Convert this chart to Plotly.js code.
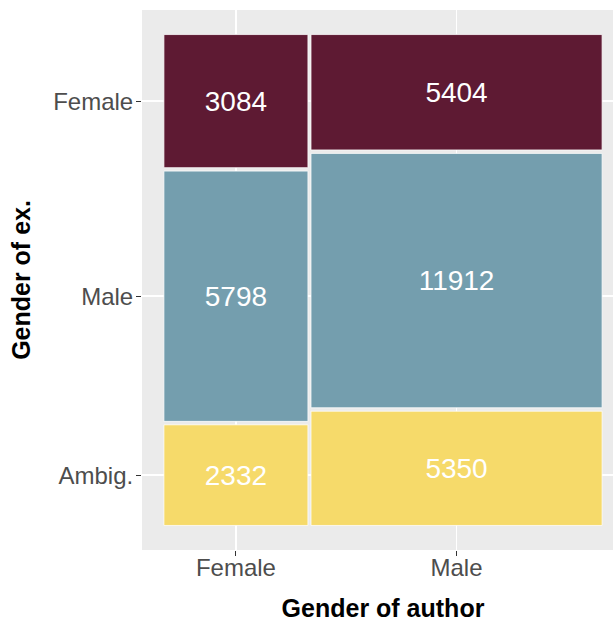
<!DOCTYPE html>
<html>
<head>
<meta charset="utf-8">
<script src="https://cdn.plot.ly/plotly-3.0.1.min.js"></script>
<style>
html, body { margin: 0; padding: 0; overflow: hidden; background: #ffffff; }
#chart { width: 625px; height: 627px; }
</style>
</head>
<body>
<div id="chart"></div>
<script>
// Data
var authorGenders = ["Female", "Male"];
var exGenders = ["Ambig.", "Male", "Female"]; // bottom to top
var countsAmbig = [2332, 5350];
var countsMale = [5798, 11912];
var countsFemale = [3084, 5404];
var fillColors = ["#F6DA6A", "#749EAE", "#5E1A33"];

var seriesCounts = [countsAmbig, countsMale, countsFemale];
var gap = 0.007;

// Mosaic geometry built from the counts
var colTotals = authorGenders.map(function (_, j) {
  return seriesCounts.reduce(function (s, arr) { return s + arr[j]; }, 0);
});
var grand = colTotals.reduce(function (a, b) { return a + b; }, 0);
var availW = 1 - gap * (authorGenders.length - 1);
var availH = 1 - gap * (exGenders.length - 1);
var colWidths = colTotals.map(function (t) { return availW * t / grand; });
var colStarts = [];
var acc = 0;
colWidths.forEach(function (w) { colStarts.push(acc); acc += w + gap; });
var colCenters = colStarts.map(function (s, j) { return s + colWidths[j] / 2; });

var traces = [];
var bases = authorGenders.map(function () { return 0; });
var yTickVals = [];
exGenders.forEach(function (g, i) {
  var heights = authorGenders.map(function (_, j) { return availH * seriesCounts[i][j] / colTotals[j]; });
  var thisBase = bases.slice();
  yTickVals.push(thisBase[0] + heights[0] / 2);
  traces.push({
    type: "bar",
    name: g,
    x: colCenters,
    y: heights,
    base: thisBase,
    width: colWidths,
    text: seriesCounts[i].map(String),
    textposition: "inside",
    insidetextanchor: "middle",
    textfont: { color: "#ffffff", size: 28, family: "Liberation Sans, Arial, sans-serif" },
    constraintext: "none",
    marker: { color: fillColors[i], line: { color: "rgba(255,255,255,0.75)", width: 1 } },
    hoverinfo: "skip",
    showlegend: false
  });
  bases = bases.map(function (b, j) { return b + heights[j] + gap; });
});

var layout = {
  width: 625,
  height: 627,
  margin: { l: 142, r: 1, t: 10, b: 77 },
  paper_bgcolor: "#ffffff",
  plot_bgcolor: "#EBEBEB",
  barmode: "overlay",
  font: { family: "Liberation Sans, Arial, sans-serif" },
  xaxis: {
    range: [-0.05, 1.05],
    tickmode: "array",
    tickvals: colCenters,
    ticktext: authorGenders,
    ticks: "outside",
    ticklen: 5,
    tickwidth: 1,
    tickcolor: "#333333",
    tickfont: { size: 24, color: "#4D4D4D" },
    ticklabelstandoff: -9,
    showgrid: true,
    gridcolor: "#ffffff",
    gridwidth: 1.6,
    zeroline: false,
    showline: false,
    title: { text: "<b>Gender of author</b>", font: { size: 25, color: "#000000" }, standoff: 19 }
  },
  yaxis: {
    range: [-0.05, 1.05],
    tickmode: "array",
    tickvals: yTickVals,
    ticktext: exGenders,
    ticks: "outside",
    ticklen: 5,
    tickwidth: 1,
    tickcolor: "#333333",
    tickfont: { size: 24, color: "#4D4D4D" },
    ticklabelstandoff: -2,
    showgrid: true,
    gridcolor: "#ffffff",
    gridwidth: 1.6,
    zeroline: false,
    showline: false,
    title: { text: "<b>Gender of ex.</b>", font: { size: 25, color: "#000000" }, standoff: 15 }
  }
};

Plotly.newPlot("chart", traces, layout, { displayModeBar: false, staticPlot: true });
</script>
</body>
</html>
